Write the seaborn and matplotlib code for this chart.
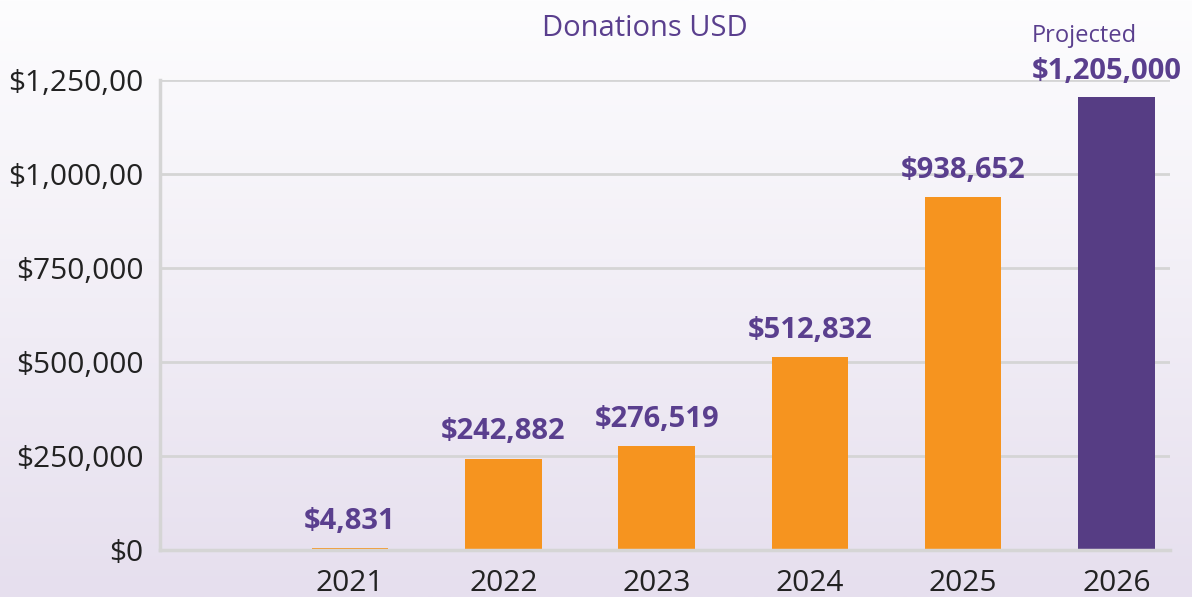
import numpy as np
import pandas as pd
import matplotlib.pyplot as plt
import seaborn as sns

# Data
years = ['2021', '2022', '2023', '2024', '2025', '2026']
donations = [4831, 242882, 276519, 512832, 938652, 1205000]
kinds = ['Actual', 'Actual', 'Actual', 'Actual', 'Actual', 'Projected']
ytick_values = [0, 250000, 500000, 750000, 1000000, 1250000]
ytick_labels = ['$0', '$250,000', '$500,000', '$750,000', '$1,000,00', '$1,250,00']

df = pd.DataFrame({'year': years, 'usd': donations, 'kind': kinds})

orange = '#F6941F'
purple = '#563D84'
label_purple = '#5A3F8E'
grid_gray = '#D5D5D5'

sns.set_theme(style='white')
plt.rcParams['font.family'] = ['Open Sans', 'DejaVu Sans']

fig = plt.figure(figsize=(11.92, 5.97), dpi=100)

# Background gradient (white at top -> light lavender at bottom)
bg = fig.add_axes([0, 0, 1, 1], zorder=-10)
grad = np.linspace(0, 1, 256).reshape(-1, 1)
top_c = np.array([0xFD, 0xFD, 0xFE]) / 255
bot_c = np.array([0xE6, 0xDF, 0xEE]) / 255
img = top_c + grad[..., None] * (bot_c - top_c)
bg.imshow(img, aspect='auto', extent=[0, 1, 0, 1], origin='upper')
bg.axis('off')

ax = fig.add_axes([160 / 1192, 1 - 550 / 597, 1010 / 1192, 470 / 597])
ax.set_facecolor('none')

sns.barplot(data=df, x='year', y='usd', hue='kind', order=[''] + years,
            palette={'Actual': orange, 'Projected': purple},
            dodge=False, width=0.5, legend=False, saturation=1,
            linewidth=0, ax=ax)

ax.set_xlim(-0.24, 6.35)
ax.set_ylim(0, 1250000)
ax.set_yticks(ytick_values)
ax.set_yticklabels(ytick_labels)
ax.set_xlabel('')
ax.set_ylabel('')
ax.tick_params(axis='both', length=0, labelsize=21.5, colors='#222222')
ax.tick_params(axis='x', pad=14)
ax.tick_params(axis='y', pad=12)

ax.grid(axis='y', color=grid_gray, linewidth=2)
ax.set_axisbelow(True)
for side in ['top', 'right']:
    ax.spines[side].set_visible(False)
for side in ['left', 'bottom']:
    ax.spines[side].set_color(grid_gray)
    ax.spines[side].set_linewidth(2.5)

# Value labels
for i, (yr, val) in enumerate(zip(years, donations)):
    xpos = i + 1
    if kinds[i] == 'Projected':
        ax.annotate(f'${val:,}', (xpos, val), xytext=(-61, 8), textcoords='offset points',
                    ha='left', va='bottom', fontsize=21, fontweight='bold',
                    color=label_purple, annotation_clip=False)
        ax.annotate('Projected', (xpos, val), xytext=(-61, 35), textcoords='offset points',
                    ha='left', va='bottom', fontsize=17, color=label_purple,
                    annotation_clip=False)
    else:
        ax.annotate(f'${val:,}', (xpos, val), xytext=(0, 9), textcoords='offset points',
                    ha='center', va='bottom', fontsize=21, fontweight='bold',
                    color=label_purple, annotation_clip=False)

fig.text(645 / 1192, 1 - 29 / 597, 'Donations USD', ha='center', va='center',
         fontsize=21, color=label_purple)

fig.savefig('out.png', dpi=100)
